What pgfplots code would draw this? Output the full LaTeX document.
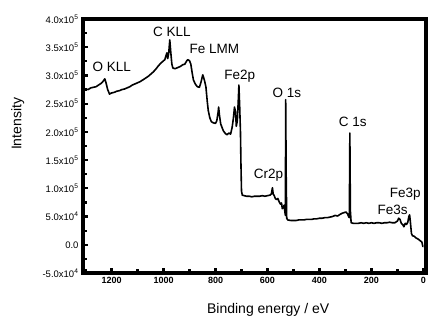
\documentclass[border=0pt]{standalone}
\usepackage{fontspec}
\setmainfont{Liberation Sans}
\usepackage{pgfplots}
\pgfplotsset{compat=1.18}
\begin{document}
\begin{tikzpicture}
\useasboundingbox (-83pt,-55pt) rectangle (361pt,273pt);
\begin{axis}[
  at={(0,0)}, anchor=south west,
  scale only axis, width=343pt, height=254pt,
  x dir=reverse, xmin=-10, xmax=1310,
  ymin=-50000, ymax=400000,
  axis line style={draw=none},
  xtick={0,200,400,600,800,1000,1200}, minor xtick={100,300,500,700,900,1100,1300},
  xticklabels={0,200,400,600,800,1000,1200},
  ytick={-50000,0,50000,100000,150000,200000,250000,300000,350000,400000},
  minor ytick={-25000,25000,75000,125000,175000,225000,275000,325000,375000},
  yticklabels={-5.0x10\textsuperscript{4},0.0,5.0x10\textsuperscript{4},1.0x10\textsuperscript{5},1.5x10\textsuperscript{5},2.0x10\textsuperscript{5},2.5x10\textsuperscript{5},3.0x10\textsuperscript{5},3.5x10\textsuperscript{5},4.0x10\textsuperscript{5}},
  scaled y ticks=false,
  /pgf/number format/assume math mode=true,
  tick pos=left, tick align=inside,
  major tick length=5pt, minor tick length=4pt,
  every tick/.style={line width=2.2pt, black},
  xticklabel style={font=\fontsize{9}{10}\selectfont\bfseries, yshift=-1pt},
  yticklabel style={font=\fontsize{9.5}{10}\selectfont, xshift=-1pt},
  xlabel={Binding energy / eV},
  ylabel={Intensity},
  xlabel style={font=\fontsize{14}{15}\selectfont, at={(axis description cs:0.54,-0.146)}, anchor=center},
  ylabel style={font=\fontsize{14}{15}\selectfont, at={(axis description cs:-0.19,0.587)}, anchor=center},
  clip=false,
]
\addplot[black, line width=1.6pt, mark=none, line join=round] coordinates {
(1310,274000)(1300,276000)(1290,275000)(1280,278000)(1270,279000)(1260,280000)(1250,283000)(1240,286000)(1232,290000)(1226,294000)(1222,288000)(1215,275000)(1208,267000)(1200,269000)(1190,270000)(1180,272000)(1170,273000)(1160,275000)(1150,276000)(1140,278000)(1130,280000)(1120,283000)(1110,285000)(1100,287000)(1090,289000)(1080,292000)(1070,295000)(1060,298000)(1050,302000)(1040,306000)(1030,311000)(1020,317000)(1010,322000)(1000,326000)(995,328000)(990,336000)(987,340000)(984,330000)(980,340000)(976,363000)(972,340000)(968,320000)(964,313000)(955,312000)(945,314000)(935,316000)(926,319000)(918,320000)(912,325000)(907,328000)(900,326000)(895,320000)(890,305000)(885,292000)(878,285000)(870,280000)(862,279000)(856,288000)(849,301000)(843,292000)(837,280000)(832,255000)(828,238000)(822,225000)(816,218000)(808,216000)(800,215000)(795,220000)(790,235000)(788,244000)(785,230000)(780,214000)(775,208000)(770,202000)(762,197000)(756,195000)(748,198000)(742,196000)(736,208000)(731,225000)(727,244000)(723,235000)(720,210000)(716,220000)(712,260000)(710,283000)(707,245000)(704,200000)(702,140000)(700,95000)(697,88000)(690,87000)(680,86000)(670,86000)(660,85000)(650,86000)(640,86000)(630,86000)(620,87000)(610,86000)(600,87000)(590,88000)(585,90000)(581,101000)(578,90000)(574,87000)(570,82000)(565,80000)(560,82000)(555,76000)(550,72000)(546,74000)(543,64000)(540,66000)(536,70000)(533,58000)(531,52000)(530,257000)(528,120000)(526,47000)(522,44000)(510,43000)(500,43000)(490,43000)(480,44000)(470,44000)(460,44000)(450,45000)(440,45000)(430,45000)(420,46000)(410,46000)(400,47000)(390,47000)(380,48000)(370,48000)(360,49000)(350,50000)(340,52000)(330,51000)(320,54000)(312,56000)(305,57000)(298,58000)(292,55000)(288,50000)(285,48000)(283,198000)(281,60000)(278,39000)(270,38000)(260,38000)(250,38000)(240,39000)(230,38000)(220,39000)(210,38000)(200,39000)(190,38000)(180,39000)(170,39000)(160,38000)(150,39000)(140,39000)(130,40000)(120,39000)(110,39000)(100,42000)(95,47000)(90,45000)(85,38000)(80,36000)(75,32000)(70,38000)(65,36000)(60,40000)(56,50000)(53,53000)(50,40000)(46,20000)(42,16000)(35,15000)(28,12000)(20,10000)(12,7000)(6,5000)(2,-3000)(0,-3000)
};
\draw[line width=3.4pt] (rel axis cs:0,0) rectangle (rel axis cs:1,1);
\node[font=\fontsize{13.5}{14}\selectfont] at (axis cs:1199,315000) {O KLL};
\node[font=\fontsize{13.5}{14}\selectfont] at (axis cs:968,377000) {C KLL};
\node[font=\fontsize{13.5}{14}\selectfont] at (axis cs:804,347000) {Fe LMM};
\node[font=\fontsize{13.5}{14}\selectfont] at (axis cs:707,299000) {Fe2p};
\node[font=\fontsize{13.5}{14}\selectfont] at (axis cs:525,269000) {O 1s};
\node[font=\fontsize{13.5}{14}\selectfont] at (axis cs:272,218000) {C 1s};
\node[font=\fontsize{13.5}{14}\selectfont] at (axis cs:596,124000) {Cr2p};
\node[font=\fontsize{13.5}{14}\selectfont] at (axis cs:70,90000) {Fe3p};
\node[font=\fontsize{13.5}{14}\selectfont] at (axis cs:118,62000) {Fe3s};
\end{axis}
\end{tikzpicture}
\end{document}
